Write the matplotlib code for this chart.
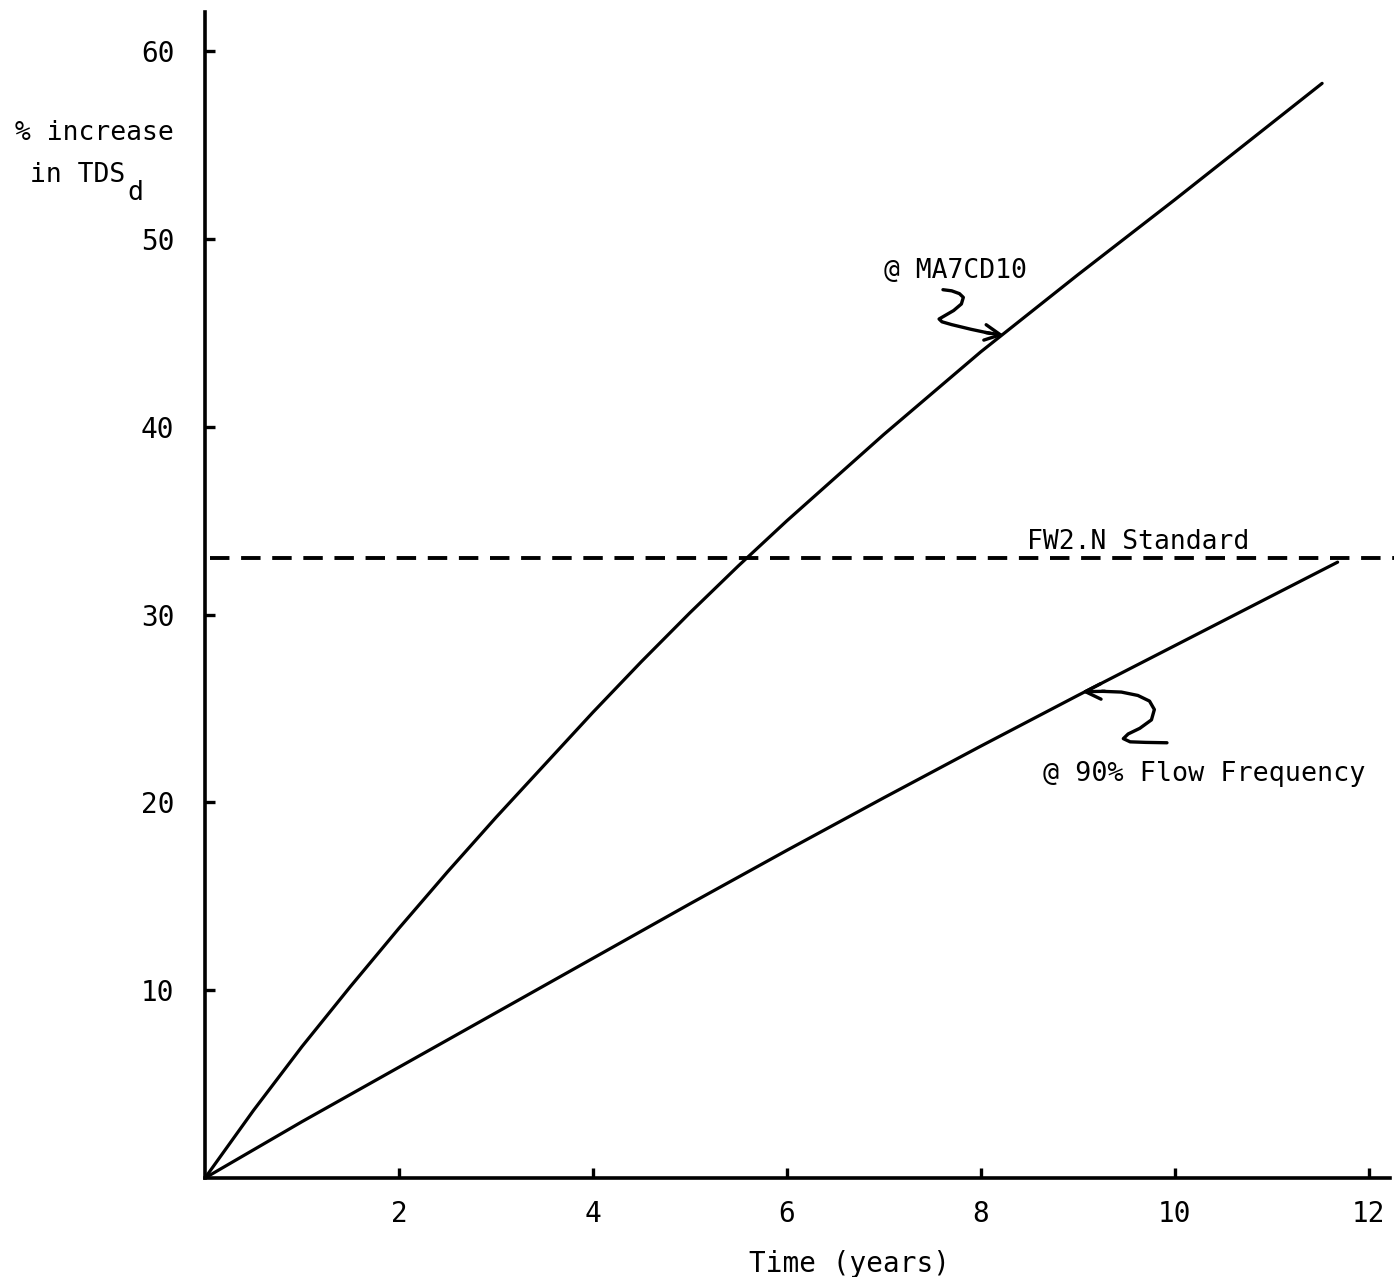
import matplotlib
matplotlib.use("Agg")
import matplotlib.pyplot as plt

plt.rcParams['font.family'] = ['DejaVu Sans Mono']

# Data
years_ma7cd10 = [0, 0.5, 1, 1.5, 2, 2.5, 3, 3.5, 4, 4.5, 5, 5.5, 6, 7, 8, 9, 10, 11.52]
pct_ma7cd10 = [0, 3.6, 7.0, 10.2, 13.3, 16.3, 19.2, 22.0, 24.8, 27.5, 30.1, 32.6,
               35.0, 39.6, 44.0, 48.1, 52.1, 58.3]

years_90pct = [0, 1, 2, 3, 4, 5, 6, 7, 8, 9, 10, 11, 11.68]
pct_90pct = [0, 3.0, 5.9, 8.8, 11.7, 14.6, 17.45, 20.25, 23.0, 25.7, 28.35, 31.0, 32.8]

standard_level = 33.0
x_ticks = [2, 4, 6, 8, 10, 12]
y_ticks = [10, 20, 30, 40, 50, 60]

fig = plt.figure(figsize=(13.94, 12.77), dpi=100)
ax = fig.add_axes([205/1394, 99/1277, 1185/1394, 1166/1277])
ax.set_xlim(0, 12.22)
ax.set_ylim(0, 62.1)

ax.plot(years_ma7cd10, pct_ma7cd10, color='black', lw=2.3, solid_capstyle='round',
        solid_joinstyle='round')
ax.plot(years_90pct, pct_90pct, color='black', lw=2.3, solid_capstyle='round',
        solid_joinstyle='round')
ax.plot([0.05, 12.3], [standard_level, standard_level], color='black', lw=2.8,
        dashes=(5, 3), clip_on=False)

for s in ['top', 'right']:
    ax.spines[s].set_visible(False)
for s in ['left', 'bottom']:
    ax.spines[s].set_linewidth(2.6)

ax.set_xticks(x_ticks)
ax.set_yticks(y_ticks)
ax.tick_params(axis='both', direction='in', length=7, width=2.4, labelsize=20)
ax.tick_params(axis='x', pad=16)
ax.tick_params(axis='y', pad=22)
ax.set_xlabel('Time (years)', fontsize=20)
ax.xaxis.set_label_coords(0.544, -0.062)

# y label
fig.text(15/1394, 1 - 133/1277, '% increase', fontsize=19, va='center', ha='left')
fig.text(30/1394, 1 - 175/1277, 'in TDS', fontsize=19, va='center', ha='left')
fig.text(127/1394, 1 - 193/1277, 'd', fontsize=19, va='center', ha='left')

# annotations
ax.text(7.0, 48.3, '@ MA7CD10', fontsize=19, va='center', ha='left')
ax.text(8.48, 33.2, 'FW2.N Standard', fontsize=19, va='bottom', ha='left')
ax.text(8.64, 21.5, '@ 90% Flow Frequency', fontsize=19.3, va='center', ha='left')

# squiggle arrow to upper curve
sq1_x = [7.61, 7.70, 7.78, 7.82, 7.80, 7.72, 7.62, 7.57, 7.60, 7.70, 7.90, 8.10]
sq1_y = [47.31, 47.25, 47.10, 46.90, 46.55, 46.20, 45.90, 45.75, 45.60, 45.45, 45.20, 44.98]
ax.plot(sq1_x, sq1_y, color='black', lw=2.4, solid_capstyle='round',
        solid_joinstyle='round')
ax.annotate('', xy=(8.24, 44.88), xytext=(8.05, 45.03),
            arrowprops=dict(arrowstyle='->', lw=2.4, color='black', mutation_scale=28,
                            shrinkA=0, shrinkB=0))

# squiggle arrow to lower curve
sq2_x = [9.92, 9.70, 9.54, 9.47, 9.52, 9.64, 9.76, 9.79, 9.74, 9.62, 9.45, 9.25]
sq2_y = [23.18, 23.20, 23.23, 23.40, 23.65, 23.95, 24.40, 24.95, 25.40, 25.70, 25.88, 25.92]
ax.plot(sq2_x, sq2_y, color='black', lw=2.4, solid_capstyle='round',
        solid_joinstyle='round')
ax.annotate('', xy=(9.04, 25.90), xytext=(9.28, 25.92),
            arrowprops=dict(arrowstyle='->', lw=2.4, color='black', mutation_scale=28,
                            shrinkA=0, shrinkB=0))

fig.savefig('out.png', dpi=100)
